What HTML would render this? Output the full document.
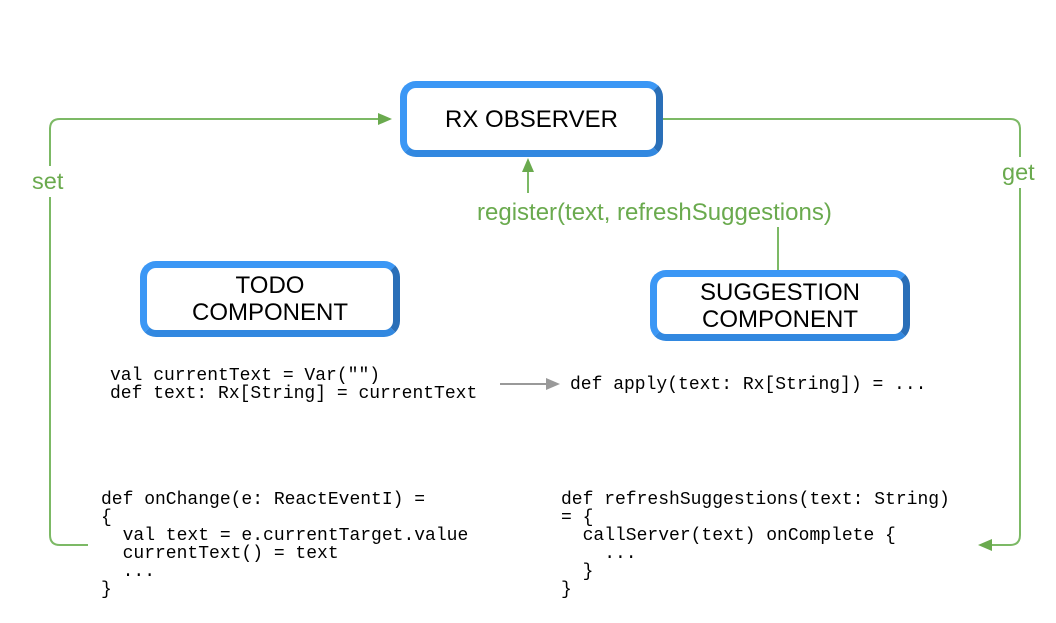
<!DOCTYPE html>
<html><head><style>
body{margin:0;width:1056px;height:623px;background:#fff;position:relative;overflow:hidden;font-family:"Liberation Sans",sans-serif}
.box{position:absolute;box-sizing:border-box;background:#fff;border:7px solid #3b97f5;border-right-color:#2a6fb8;border-bottom-color:#3288e0;border-radius:16px;display:flex;align-items:center;justify-content:center;text-align:center;font-size:24px;line-height:27px;color:#000}
.code{position:absolute;font-family:"Liberation Mono",monospace;font-size:18px;line-height:18px;white-space:pre;color:#000}
.lbl{position:absolute;color:#6aaa4e;font-size:23.5px;background:#fff}
</style></head><body>
<svg width="1056" height="623" style="position:absolute;left:0;top:0">
<g fill="none" stroke="#7cb965" stroke-width="2">
<path d="M390 119 H60 Q50 119 50 129 V535 Q50 545 60 545 H88"/>
<path d="M662 119 H1010 Q1020 119 1020 129 V535 Q1020 545 1010 545 H990"/>
<path d="M528 193 V170"/>
<path d="M778 226 V271"/>
</g>
<polygon points="392,119 378,113 378,125" fill="#6aaa4e"/>
<polygon points="978,545 992,539 992,551" fill="#6aaa4e"/>
<polygon points="528,158 522,172 534,172" fill="#6aaa4e"/>
<line x1="500" y1="384" x2="548" y2="384" stroke="#999" stroke-width="2"/>
<polygon points="560,384 546,378 546,390" fill="#999"/>
</svg>
<div class="box" style="left:400px;top:81px;width:263px;height:76px">RX OBSERVER</div>
<div class="box" style="left:140px;top:261px;width:260px;height:76px">TODO<br>COMPONENT</div>
<div class="box" style="left:650px;top:270px;width:260px;height:71px">SUGGESTION<br>COMPONENT</div>
<div class="lbl" style="left:32px;top:166px;padding:2px 0">set</div>
<div class="lbl" style="left:1002px;top:157px;padding:2px 0">get</div>
<div class="lbl" style="left:477px;top:199px;font-size:24px">register(text, refreshSuggestions)</div>
<div class="code" style="left:110px;top:367px">val currentText = Var("")
def text: Rx[String] = currentText</div>
<div class="code" style="left:570px;top:376px">def apply(text: Rx[String]) = ...</div>
<div class="code" style="left:101px;top:491px">def onChange(e: ReactEventI) =
{
  val text = e.currentTarget.value
  currentText() = text
  ...
}</div>
<div class="code" style="left:561px;top:491px">def refreshSuggestions(text: String)
= {
  callServer(text) onComplete {
    ...
  }
}</div>
</body></html>
